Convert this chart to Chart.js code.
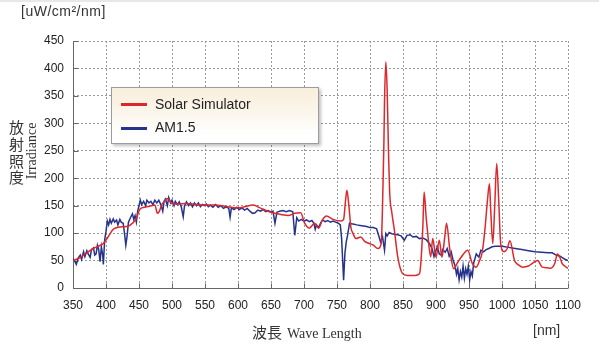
<!DOCTYPE html>
<html>
<head>
<meta charset="utf-8">
<script src="https://cdn.jsdelivr.net/npm/chart.js@4.4.1/dist/chart.umd.min.js"></script>
<style>
  body { margin: 0; background: #fff; }
  #wrap { position: relative; width: 599px; height: 350px; overflow: hidden; }
  #topline { position: absolute; left: 0; top: 0; width: 599px; height: 2px; background: #e8e8e8; }
  .lbl { position: absolute; color: #333; white-space: nowrap; }
  #unit { left: 21px; top: 3px; font: 14px "Liberation Sans", Arial, sans-serif; letter-spacing: 0.5px; }
  #yja { left: 8px; top: 119px; width: 17px; font: 15px "Noto Sans CJK JP", sans-serif; line-height: 16.8px; text-align: center; }
  #yen { left: 32px; top: 151px; font: 14px "Liberation Serif", serif; transform: translate(-50%, -50%) rotate(-90deg); }
  #xtitle { left: 252px; top: 321px; font: 15px "Noto Sans CJK JP", sans-serif; }
  #xtitle span { font: 14px "Liberation Serif", serif; margin-left: 5px; }
  #xunit { left: 533px; top: 322px; font: 14px "Liberation Sans", Arial, sans-serif; }
  #legend {
    position: absolute; left: 111px; top: 87px; width: 206px; height: 55px;
    border: 1px solid #9c9c9c;
    background: linear-gradient(to bottom, #f8eedb 0%, #fbf6ec 45%, #ffffff 85%);
    box-shadow: 2px 2px 3px rgba(0,0,0,0.25);
  }
  .item { position: absolute; left: 0; font: 14px "Liberation Sans", Arial, sans-serif; color: #222; }
  .item i { position: absolute; left: 9px; width: 26px; height: 3px; }
  .item b { position: absolute; left: 43px; font-weight: normal; white-space: nowrap; }
</style>
</head>
<body>
<div id="wrap">
  <div id="topline"></div>
  <canvas id="myChart" width="599" height="350"></canvas>
  <div class="lbl" id="unit">[uW/cm²/nm]</div>
  <div class="lbl" id="yja">放<br>射<br>照<br>度</div>
  <div class="lbl" id="yen">Irradiance</div>
  <div class="lbl" id="xtitle">波長<span>Wave Length</span></div>
  <div class="lbl" id="xunit">[nm]</div>
  <div id="legend">
    <div class="item" style="top:15px"><i style="top:0;background:rgb(220,40,45)"></i><b style="top:-7px">Solar Simulator</b></div>
    <div class="item" style="top:39px"><i style="top:0;background:rgb(38,50,140)"></i><b style="top:-8px">AM1.5</b></div>
  </div>
</div>
<script>
/*----------------------------- data -----------------------------*/
// Solar Simulator (nm / value)
const simNm = [350,360,366,372,381,390,396,403,411,421,430,436,446,451,458,466,474,478,481,484,489,493,496,499,510,520,537,550,565,580,600,610,623,635,650,665,676,686,695,701,708,716,722,728,734,744,756,760,763,765,768,771,774,779,786,792,799,805,812,817,819,821,822,824,826,828,830,833,837,842,849,857,868,875,877,880,882,885,887,892,895,900,905,909,913,916,921,927,932,938,948,955,961,966,970,974,978,981,983,986,989,992,995,998,1003,1008,1012,1019,1025,1031,1040,1046,1054,1061,1068,1074,1080,1084,1088,1091,1095,1100];
const simVal = [50,55,60,65,72,77,81,93,107,111,112,114,127,143,147,149,151,136,140,151,158,163,160,154,153,154,152,151,151,149,146,148,151,145,138,134,132,136,137,118,109,118,109,124,131,125,122,125,160,178,150,111,100,90,93,85,81,78,72,81,150,260,340,412,360,250,170,138,105,57,27,23,23,26,45,110,175,130,105,57,90,56,87,56,90,118,69,35,45,56,69,45,38,50,65,105,160,190,140,81,150,227,160,81,66,72,86,50,42,38,40,45,50,38,37,36,45,62,55,45,40,36];

// AM1.5 (nm / value)
const amNm = [350,353,355,358,361,363,366,368,371,373,376,378,381,383,385,387,389,391,393,395,396,398,400,402,404,406,408,411,413,416,418,421,423,426,428,430,432,434,437,440,442,444,446,448,450,452,454,457,460,462,465,468,471,474,477,480,483,486,488,490,493,495,498,500,503,505,508,511,514,517,519,522,525,528,531,534,537,540,543,546,549,552,555,558,562,566,570,574,578,582,586,588,590,594,598,602,606,610,614,618,622,626,630,634,638,642,646,650,653,656,659,663,668,673,678,683,686,689,692,696,700,704,708,712,715,717,719,722,725,728,732,736,740,744,748,752,755,757,759,760,762,764,766,769,772,776,780,785,790,795,800,805,810,813,816,819,822,824,826,829,833,837,842,847,852,856,861,865,870,875,880,885,890,894,897,900,902,905,908,910,914,917,920,923,926,929,931,933,935,937,939,941,943,945,947,949,951,953,955,957,961,965,968,972,976,980,985,990,996,1000,1010,1020,1030,1040,1050,1060,1070,1076,1082,1088,1092,1096,1100];
const amVal = [54,48,43,55,60,52,66,57,68,62,56,70,73,60,62,78,70,48,75,60,43,88,103,122,115,125,118,126,120,124,115,125,120,118,100,78,95,120,128,135,125,132,120,140,150,160,152,158,150,160,155,158,152,160,155,160,152,140,158,162,150,165,155,160,150,158,152,157,148,130,150,157,150,155,148,155,150,155,148,152,150,153,148,151,147,152,147,150,145,148,145,129,146,143,147,143,146,142,145,140,136,137,142,140,143,139,141,138,140,118,138,140,141,139,141,139,96,128,122,125,122,124,121,123,118,107,115,110,118,124,121,123,120,122,120,118,115,90,40,14,63,84,96,118,117,116,115,114,113,112,110,110,108,96,84,93,69,99,95,101,99,98,97,95,87,96,97,93,94,90,91,88,81,72,57,69,75,62,60,70,65,72,58,66,50,40,25,35,15,30,20,40,18,35,25,40,15,30,22,45,62,56,69,66,70,72,75,76,76,76,74,72,70,68,66,65,64,64,60,58,55,52,50];

// axis ticks
const xMin = 350, xMax = 1100, xStep = 50;
const yMin = 0, yMax = 450, yStep = 50;

/*---------------------------- plugins ---------------------------*/
// solid left/bottom axis + short tick marks pointing into the plot
const innerTicks = {
    id: 'innerTicks',
    beforeDatasetsDraw(chart) {
        const ctx = chart.ctx;
        const xs = chart.scales.x;
        const ys = chart.scales.y;
        const area = chart.chartArea;
        const L = Math.round(area.left) + 0.5;
        const B = Math.round(area.bottom) + 0.5;
        ctx.save();
        ctx.strokeStyle = '#666';
        ctx.lineWidth = 1;
        ctx.beginPath();
        ctx.moveTo(L, area.top);
        ctx.lineTo(L, B);
        ctx.lineTo(area.right, B);
        xs.ticks.forEach(t => {
            const px = Math.round(xs.getPixelForValue(t.value)) + 0.5;
            ctx.moveTo(px, B);
            ctx.lineTo(px, B - 5);
        });
        ys.ticks.forEach(t => {
            const py = Math.round(ys.getPixelForValue(t.value)) + 0.5;
            ctx.moveTo(L, py);
            ctx.lineTo(L + 5, py);
        });
        ctx.stroke();
        ctx.restore();
    }
};

/*----------------------------- chart ----------------------------*/
const toPoints = (xArr, yArr) => xArr.map((x, i) => ({ x: x, y: yArr[i] }));

Chart.defaults.font.family = '"Liberation Sans", Arial, sans-serif';
Chart.defaults.font.size = 12;
Chart.defaults.color = '#222';

const config = {
    type: 'line',
    data: {
        datasets: [{
            label: 'Solar Simulator',
            data: toPoints(simNm, simVal),
            borderColor: 'rgb(220, 40, 45)',
            borderWidth: 1.5,
            pointRadius: 0,
            cubicInterpolationMode: 'monotone'
        }, {
            label: 'AM1.5',
            data: toPoints(amNm, amVal),
            borderColor: 'rgb(38, 50, 140)',
            borderWidth: 1.5,
            pointRadius: 0,
            tension: 0
        }]
    },
    options: {
        responsive: false,
        animation: false,
        layout: {
            padding: { top: 41, right: 31, left: 0, bottom: 0 }
        },
        plugins: {
            legend: { display: false },
            tooltip: { enabled: false }
        },
        scales: {
            x: {
                type: 'linear',
                min: xMin,
                max: xMax,
                afterFit: (scale) => { scale.height = 62; },
                ticks: {
                    stepSize: xStep, autoSkip: false, maxRotation: 0, padding: 10,
                    callback: (v) => String(v)
                },
                grid: { color: '#999', drawTicks: false },
                border: { display: false, dash: [2, 2] }
            },
            y: {
                min: yMin,
                max: yMax,
                afterFit: (scale) => { scale.width = 73; },
                ticks: { stepSize: yStep, padding: 9 },
                grid: { color: '#999', drawTicks: false },
                border: { display: false, dash: [2, 2] }
            }
        }
    },
    plugins: [innerTicks]
};

const myChart = new Chart(document.getElementById('myChart'), config);
</script>
</body>
</html>
